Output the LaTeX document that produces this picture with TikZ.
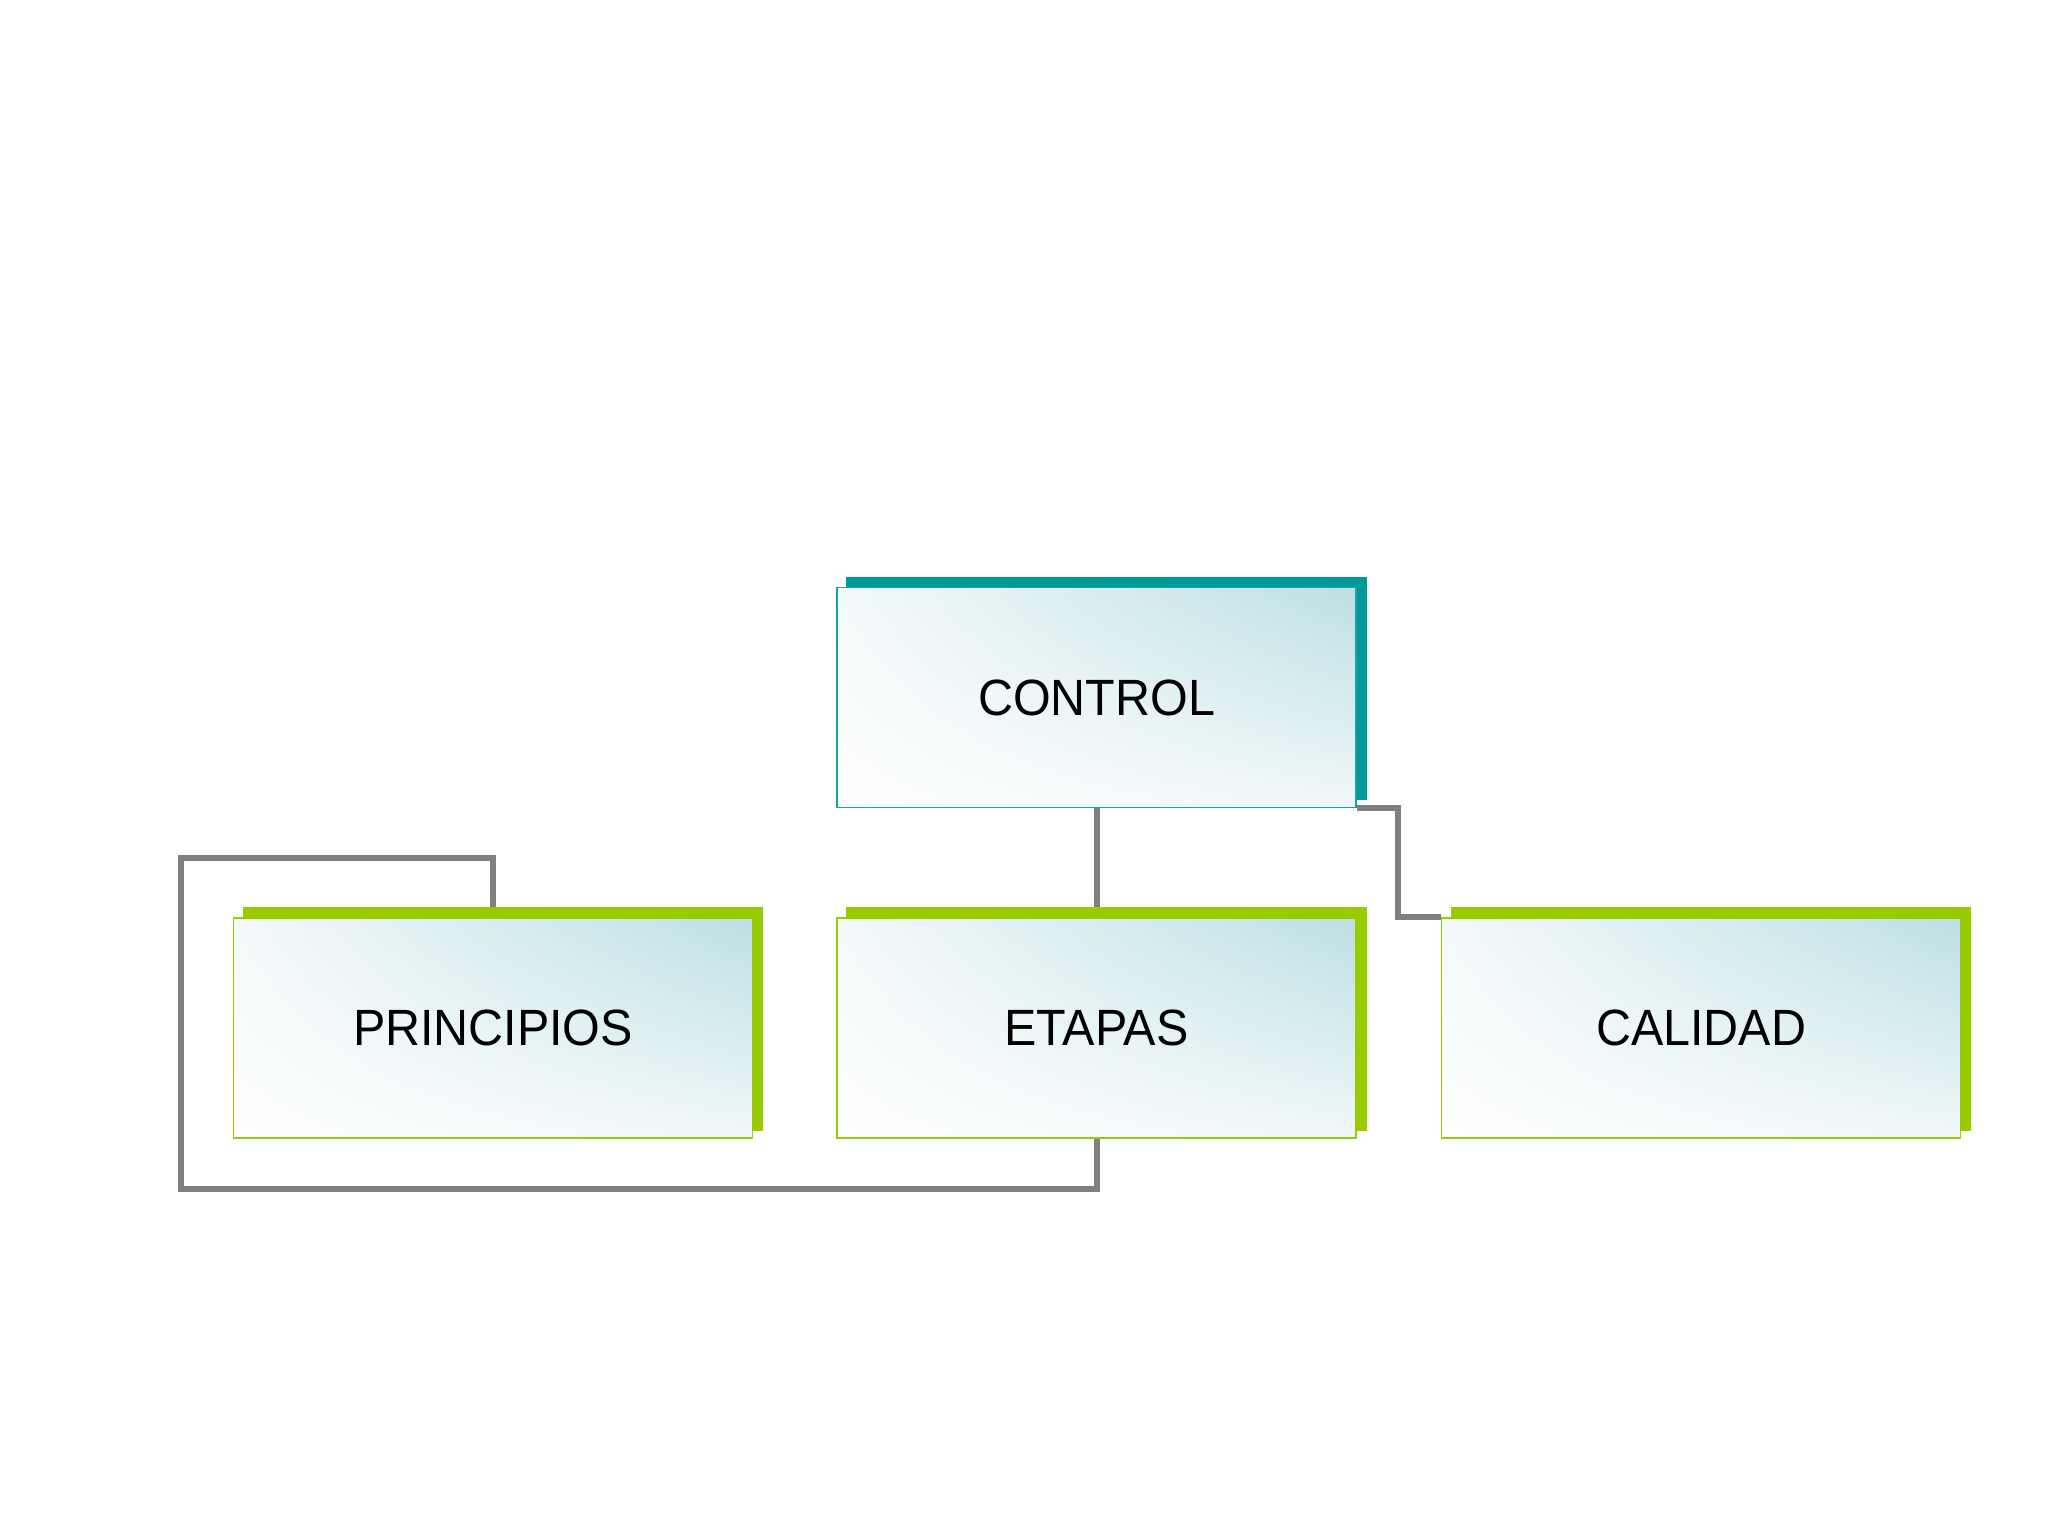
\documentclass[tikz,border=0pt]{standalone}
\usepackage{fontspec}
\setmainfont{Liberation Sans}[FakeStretch=0.95]
\usetikzlibrary{backgrounds,shadings}
\definecolor{tealc}{HTML}{009999}
\definecolor{tealborder}{HTML}{1AA3A3}
\definecolor{greenc}{HTML}{99CC00}
\definecolor{tintc}{HTML}{BCDFE3}
\definecolor{paleul}{HTML}{F4F9FA}
\definecolor{palelr}{HTML}{F0F7F9}
\definecolor{linec}{HTML}{808080}
\pgfdeclarelayer{pagebg}
\pgfdeclarelayer{lines}
\pgfdeclarelayer{shadowl}
\pgfsetlayers{pagebg,lines,shadowl,main}
\tikzset{
  boxbase/.style={rectangle, minimum width=259.5pt, minimum height=110pt, inner sep=0pt,
    line width=0.9pt, font=\fontsize{25.5}{30}\selectfont, text=black,
    upper left=paleul, upper right=tintc, lower left=white, lower right=palelr},
  topbox/.style={boxbase, draw=tealborder},
  subbox/.style={boxbase, draw=greenc},
  conn/.style={draw=linec, line width=3pt},
}
\newcommand{\boxshadow}[2]{%
  \begin{pgfonlayer}{shadowl}
    \fill[#2] ([shift={(5pt,4pt)}]#1.south west) rectangle ([shift={(5pt,5pt)}]#1.north east);
  \end{pgfonlayer}}
\begin{document}
\begin{tikzpicture}[x=0.5pt,y=-0.5pt]
  \begin{pgfonlayer}{pagebg}
    \fill[white] (0,0) rectangle (2048,1536);
  \end{pgfonlayer}
  \useasboundingbox (0,0) rectangle (2048,1536);
  \node[topbox] (control) at (1096.5,697.5) {CONTROL};
  \node[subbox] (principios) at (493,1028) {PRINCIPIOS};
  \node[subbox] (etapas) at (1096.5,1028) {ETAPAS};
  \node[subbox] (calidad) at (1701,1028) {CALIDAD};
  \boxshadow{control}{tealc}
  \boxshadow{principios}{greenc}
  \boxshadow{etapas}{greenc}
  \boxshadow{calidad}{greenc}
  \coordinate (lt) at (181,858);
  \coordinate (lb) at (181,1189);
  \begin{pgfonlayer}{lines}
    \draw[conn] (control.south) -- (etapas.north);
    \draw[conn] (control.south east) -- ++(41,0) |- (calidad.north west);
    \draw[conn] (principios.north) |- (lt) -- (lb) -| (etapas.south);
  \end{pgfonlayer}
\end{tikzpicture}
\end{document}
